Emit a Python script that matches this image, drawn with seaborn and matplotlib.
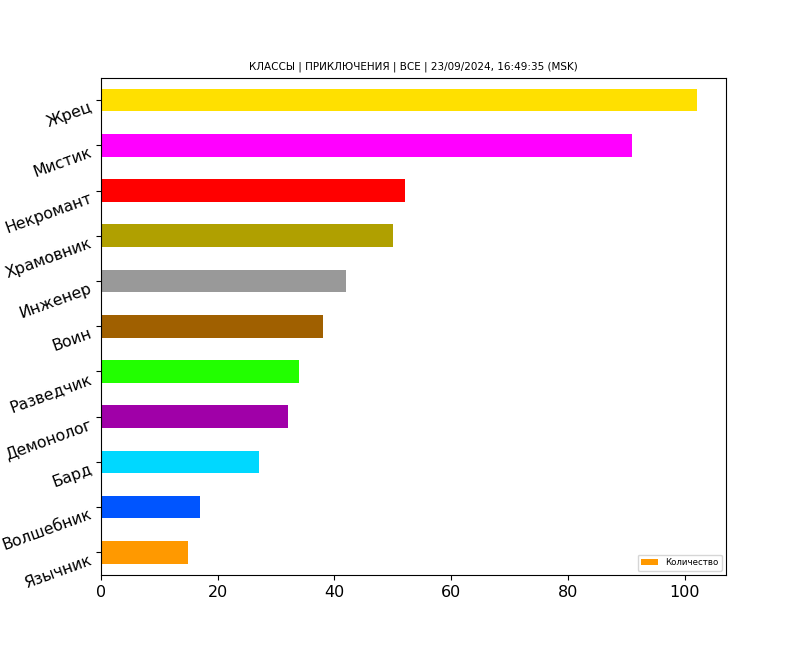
import matplotlib
matplotlib.use("Agg")
import matplotlib.pyplot as plt
import seaborn as sns
import pandas as pd
from matplotlib.patches import Patch

classes = ["Жрец", "Мистик", "Некромант", "Храмовник", "Инженер", "Воин",
           "Разведчик", "Демонолог", "Бард", "Волшебник", "Язычник"]
counts = [102, 91, 52, 50, 42, 38, 34, 32, 27, 17, 15]
colors = ["#FFE000", "#FF00FF", "#FF0000", "#B0A000", "#999999", "#A06000",
          "#22FF00", "#A000A8", "#00D8FF", "#0055FF", "#FF9900"]
title = "КЛАССЫ | ПРИКЛЮЧЕНИЯ | ВСЕ | 23/09/2024, 16:49:35 (MSK)"
legend_label = "Количество"

df = pd.DataFrame({"class": classes, "count": counts})

fig, ax = plt.subplots(figsize=(8.07, 6.46), dpi=100)
sns.barplot(data=df, x="count", y="class", hue="class", order=classes,
            hue_order=classes, palette=colors, width=0.5, saturation=1,
            legend=False, ax=ax, orient="h")
ax.set_xlabel("")
ax.set_ylabel("")
ax.set_title(title, fontsize=7.5)
ax.tick_params(axis="x", labelsize=11.5)
ax.tick_params(axis="y", labelsize=11.3, labelrotation=20, pad=1.5)
for lbl in ax.get_yticklabels():
    lbl.set_verticalalignment("top")
ax.margins(x=0.05)
ax.legend(handles=[Patch(facecolor=colors[-1], label=legend_label)],
          loc="lower right", fontsize=6.2)
fig.savefig("out.png", dpi=100)
